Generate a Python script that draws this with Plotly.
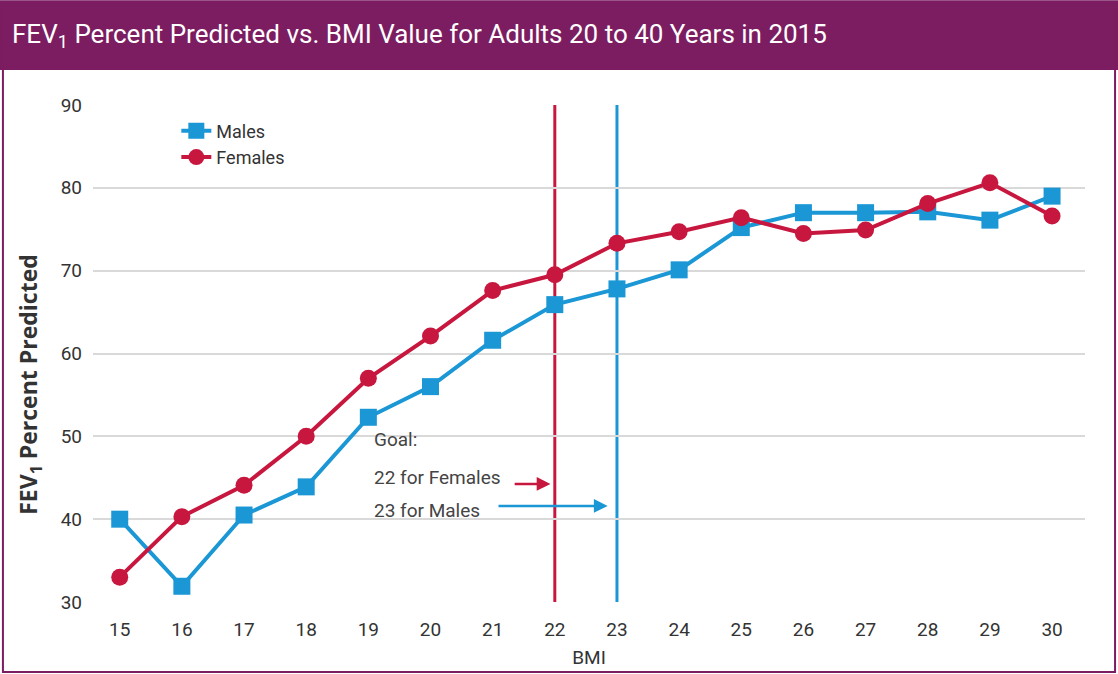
import plotly.graph_objects as go

bmi = [15, 16, 17, 18, 19, 20, 21, 22, 23, 24, 25, 26, 27, 28, 29, 30]
males = [40.0, 31.9, 40.5, 43.9, 52.3, 56.0, 61.6, 65.9, 67.8, 70.1, 75.2, 77.0, 77.0, 77.1, 76.1, 79.0]
females = [33.0, 40.3, 44.1, 50.0, 57.0, 62.1, 67.6, 69.5, 73.3, 74.7, 76.4, 74.5, 74.9, 78.1, 80.6, 76.6]
goal_females = 22
goal_males = 23
yticks = [30, 40, 50, 60, 70, 80, 90]

BLUE = "#1b97d5"
RED = "#c8173f"
PURPLE = "#7b1d60"
FONT = "Liberation Sans Narrow, Roboto, sans-serif"

fig = go.Figure()
fig.add_trace(go.Scatter(x=bmi, y=males, name="Males", mode="lines+markers",
                         line=dict(color=BLUE, width=4),
                         marker=dict(symbol="square", size=17, color=BLUE)))
fig.add_trace(go.Scatter(x=bmi, y=females, name="Females", mode="lines+markers",
                         line=dict(color=RED, width=4),
                         marker=dict(symbol="circle", size=17, color=RED)))

# goal lines
fig.add_shape(type="line", xref="x", yref="y", x0=goal_females, x1=goal_females,
              y0=yticks[0], y1=yticks[-1], line=dict(color=RED, width=3), layer="below")
fig.add_shape(type="line", xref="x", yref="y", x0=goal_males, x1=goal_males,
              y0=yticks[0], y1=yticks[-1], line=dict(color=BLUE, width=3), layer="below")

# title bar
fig.add_shape(type="rect", xref="paper", yref="paper", x0=-0.0938, x1=1.0333,
              y0=1.0704, y1=1.211, fillcolor=PURPLE, line=dict(width=0), layer="below")
# outer border
fig.add_shape(type="rect", xref="paper", yref="paper", x0=-0.0908, x1=1.0303,
              y0=-0.141, y1=1.2, fillcolor="rgba(0,0,0,0)",
              line=dict(color=PURPLE, width=2), layer="below")

fig.add_annotation(xref="paper", yref="paper", x=-0.0837, y=1.14, xanchor="left", yanchor="middle",
                   text="FEV<sub>1</sub> Percent Predicted vs. BMI Value for Adults 20 to 40 Years in 2015",
                   showarrow=False, font=dict(family=FONT, size=26, color="white"))

# y-axis title
fig.add_annotation(xref="paper", yref="paper", x=-0.0635, y=0.437, textangle=-90,
                   xanchor="center", yanchor="middle", showarrow=False,
                   text="<b>FEV<sub>1</sub> Percent Predicted</b>",
                   font=dict(family="Open Sans, sans-serif", size=23, color="#333333"))

# goal text
txt_font = dict(family=FONT, size=19, color="#444444")
fig.add_annotation(x=19.06, y=49.6, text="Goal:", showarrow=False, xanchor="left", font=txt_font)
fig.add_annotation(x=19.06, y=45.0, text="22 for Females", showarrow=False, xanchor="left", font=txt_font)
fig.add_annotation(x=19.06, y=41.1, text="23 for Males", showarrow=False, xanchor="left", font=txt_font)

# arrows
fig.add_annotation(x=21.93, y=44.25, ax=21.33, ay=44.25, xref="x", yref="y", axref="x", ayref="y",
                   text="", showarrow=True, arrowhead=2, arrowsize=1.1, arrowwidth=2.5, arrowcolor=RED)
fig.add_annotation(x=22.85, y=41.6, ax=21.07, ay=41.6, xref="x", yref="y", axref="x", ayref="y",
                   text="", showarrow=True, arrowhead=2, arrowsize=1.1, arrowwidth=2.5, arrowcolor=BLUE)

fig.update_layout(
    width=1118, height=674,
    margin=dict(l=93, r=33, t=105, b=72),
    paper_bgcolor="white", plot_bgcolor="white",
    showlegend=True,
    legend=dict(x=0.084, y=0.985, xanchor="left", yanchor="top", bgcolor="rgba(0,0,0,0)",
                font=dict(family=FONT, size=18, color="#333333"), tracegroupgap=0,
                itemwidth=30),
    font=dict(family=FONT, color="#333333"),
)
fig.update_xaxes(range=[14.57, 30.53], tickmode="array", tickvals=bmi,
                 showgrid=False, zeroline=False, showline=False, automargin=False,
                 ticklabelstandoff=14,
                 tickfont=dict(family=FONT, size=19, color="#333333"),
                 title=dict(text="BMI", font=dict(family=FONT, size=19, color="#333333"), standoff=10))
fig.update_yaxes(range=[30, 90], tickmode="array", tickvals=yticks,
                 showgrid=True, gridcolor="#d9d9d9", gridwidth=2, zeroline=False, showline=False,
                 automargin=False, ticklabelstandoff=10,
                 tickfont=dict(family=FONT, size=19, color="#333333"))

fig.write_html("out.html", config={"displayModeBar": False},
               post_script="document.body.style.margin='0';")
